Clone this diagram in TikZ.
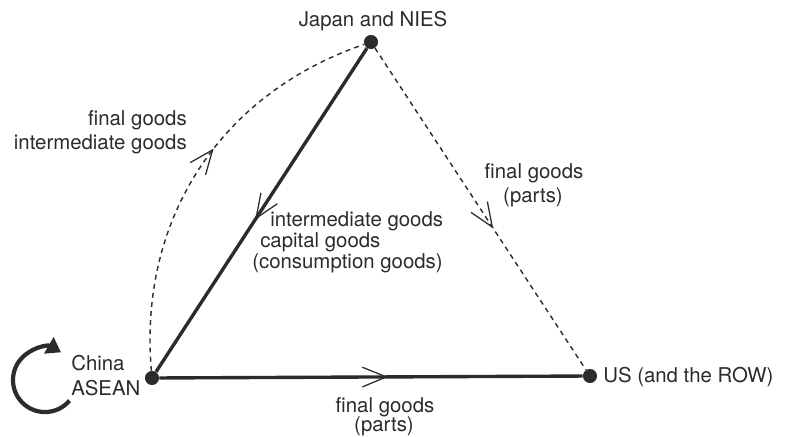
\documentclass[tikz,border=0pt]{standalone}
\usepackage{fontspec}
\setmainfont{TeX Gyre Heros}
\usetikzlibrary{arrows.meta, decorations.markings}
\definecolor{ink}{HTML}{2B2B2B}

\begin{document}
\begin{tikzpicture}[x=0.025cm, y=0.025cm,
  dot/.style={circle, fill=ink, inner sep=0pt, minimum size=10pt},
  lbl/.style={font=\fontsize{14.5}{17}\selectfont, text=ink, inner sep=0pt},
  trade/.style={ink, line width=2.4pt},
  flow/.style={ink, line width=1pt, dash pattern=on 3.5pt off 3pt},
  midarrow/.style={postaction={decorate}, decoration={markings,
    mark=at position #1 with {\arrow{Straight Barb[line width=0.9pt, length=17pt, width=14pt]}}}}
]
  \useasboundingbox (0,0) rectangle (785,-436);

  \node[dot] (japan) at (371,-42) {};
  \node[dot] (china) at (152,-378) {};
  \node[dot] (us) at (590,-376) {};

  % country labels
  \node[lbl, anchor=base] (japanlbl) at (373,-26) {Japan and NIES};
  \node[lbl, anchor=base west] (chinalbl) at (71,-370) {China};
  \node[lbl, anchor=base west] (aseanlbl) at (71,-395) {ASEAN};
  \node[lbl, anchor=base west] (uslbl) at (603,-382) {US (and the ROW)};

  % intra-regional loop
  \draw[ink, line width=3pt, -{Triangle[length=10pt, width=13pt]}]
    (69.5,-400.6) arc[start angle=-40, end angle=-300, radius=32];

  % trade flows
  \draw[trade, midarrow=0.53] (japan) -- (china);
  \draw[trade, midarrow=0.54] (china) -- (us);
  \draw[flow, midarrow=0.56] (japan) -- (us);
  \draw[flow, midarrow=0.56] (china) to[bend left=38] (japan);

  % goods labels
  \node[lbl, anchor=base east] (fg1) at (187,-125) {final goods};
  \node[lbl, anchor=base east] (ig1) at (187,-149) {intermediate goods};

  \node[lbl, anchor=base west] (ig2) at (270,-226) {intermediate goods};
  \node[lbl, anchor=base west] (cg2) at (260,-247) {capital goods};
  \node[lbl, anchor=base west] (csg2) at (252,-268) {(consumption goods)};

  \node[lbl, anchor=base] (fg3) at (534,-178) {final goods};
  \node[lbl, anchor=base] (pt3) at (533,-202) {(parts)};

  \node[lbl, anchor=base] (fg4) at (385,-412) {final goods};
  \node[lbl, anchor=base] (pt4) at (384,-431) {(parts)};
\end{tikzpicture}
\end{document}
